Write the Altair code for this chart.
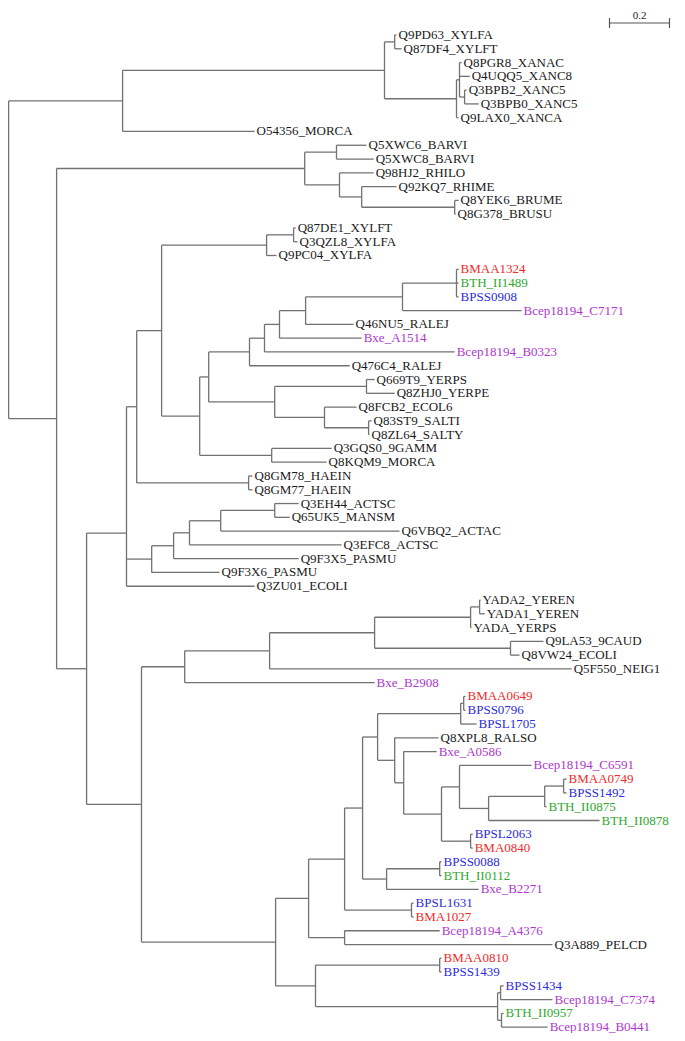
import altair as alt
import pandas as pd
from collections import defaultdict

# ---------------- data (depth = distance from root, substitutions/site) ----------------
leaf_names = [
    "Q9PD63_XYLFA", "Q87DF4_XYLFT", "Q8PGR8_XANAC", "Q4UQQ5_XANC8", "Q3BPB2_XANC5",
    "Q3BPB0_XANC5", "Q9LAX0_XANCA", "O54356_MORCA", "Q5XWC6_BARVI", "Q5XWC8_BARVI",
    "Q98HJ2_RHILO", "Q92KQ7_RHIME", "Q8YEK6_BRUME", "Q8G378_BRUSU", "Q87DE1_XYLFT",
    "Q3QZL8_XYLFA", "Q9PC04_XYLFA", "BMAA1324", "BTH_II1489", "BPSS0908",
    "Bcep18194_C7171", "Q46NU5_RALEJ", "Bxe_A1514", "Bcep18194_B0323", "Q476C4_RALEJ",
    "Q669T9_YERPS", "Q8ZHJ0_YERPE", "Q8FCB2_ECOL6", "Q83ST9_SALTI", "Q8ZL64_SALTY",
    "Q3GQS0_9GAMM", "Q8KQM9_MORCA", "Q8GM78_HAEIN", "Q8GM77_HAEIN", "Q3EH44_ACTSC",
    "Q65UK5_MANSM", "Q6VBQ2_ACTAC", "Q3EFC8_ACTSC", "Q9F3X5_PASMU", "Q9F3X6_PASMU",
    "Q3ZU01_ECOLI", "YADA2_YEREN", "YADA1_YEREN", "YADA_YERPS", "Q9LA53_9CAUD",
    "Q8VW24_ECOLI", "Q5F550_NEIG1", "Bxe_B2908", "BMAA0649", "BPSS0796",
    "BPSL1705", "Q8XPL8_RALSO", "Bxe_A0586", "Bcep18194_C6591", "BMAA0749",
    "BPSS1492", "BTH_II0875", "BTH_II0878", "BPSL2063", "BMA0840",
    "BPSS0088", "BTH_II0112", "Bxe_B2271", "BPSL1631", "BMA1027",
    "Bcep18194_A4376", "Q3A889_PELCD", "BMAA0810", "BPSS1439", "BPSS1434",
    "Bcep18194_C7374", "BTH_II0957", "Bcep18194_B0441",
]
leaf_parent = [
    "A1a", "A1a", "X", "X", "Y",
    "Y", "A1b", "A", "G1", "G1",
    "G2", "G3", "G4", "G4", "N292",
    "N292", "N265", "N455", "N455", "N455",
    "N401", "N304", "N278", "N263", "N248",
    "N365", "N365", "N323", "N367", "N367",
    "N269", "N269", "N247", "N247", "N273b",
    "N273b", "N219", "N188", "N172", "N150",
    "N125", "N478", "N478", "N470", "N509",
    "N509", "N268", "N183", "N462", "N462",
    "N459", "N393", "N402", "N458", "N562",
    "N562", "N543", "N487", "N469", "N469",
    "N438", "N438", "N385", "N410", "N410",
    "N343b", "N343b", "N438b", "N438b", "N499",
    "N499", "N500", "N500",
]
leaf_depth = [
    1.293, 1.310, 1.510, 1.537, 1.527,
    1.567, 1.500, 0.820, 1.193, 1.217,
    1.217, 1.293, 1.500, 1.490, 0.957,
    0.963, 0.893, 1.500, 1.500, 1.500,
    1.710, 1.150, 1.177, 1.487, 1.137,
    1.220, 1.287, 1.160, 1.210, 1.203,
    1.077, 1.060, 0.813, 0.813, 0.967,
    0.937, 1.303, 1.110, 0.967, 0.703,
    0.820, 1.573, 1.587, 1.543, 1.783,
    1.703, 1.877, 1.220, 1.523, 1.523,
    1.560, 1.433, 1.427, 1.743, 1.860,
    1.860, 1.793, 1.970, 1.547, 1.547,
    1.443, 1.443, 1.567, 1.350, 1.350,
    1.437, 1.813, 1.443, 1.443, 1.650,
    1.813, 1.650, 1.797,
]

node_names = [
    "A", "A1", "A1a", "A1b", "X", "Y",
    "B", "G", "G1", "G2", "G3", "G4",
    "N85", "N125", "N135", "N160", "N265", "N292", "N198", "N207", "N248", "N263",
    "N278", "N304", "N401", "N455", "N273", "N365", "N323", "N367", "N269", "N247",
    "N150", "N172", "N188", "N219", "N273b",
    "N140", "N183", "N268", "N373", "N470", "N478", "N509",
    "N274", "N307", "N343a", "N362", "N376", "N459", "N462", "N393", "N402", "N440",
    "N458", "N487", "N543", "N562", "N469", "N385", "N438", "N410", "N343b",
    "N314", "N438b", "N496", "N499", "N500",
]
node_parent = [
    "R", "A", "A1", "A1", "A1b", "X",
    "R", "B", "G", "G", "G2", "G3",
    "B", "N85", "N125", "N135", "N160", "N265", "N160", "N198", "N207", "N248",
    "N263", "N278", "N304", "N401", "N207", "N273", "N273", "N323", "N198", "N135",
    "N125", "N150", "N172", "N188", "N219",
    "N85", "N140", "N183", "N268", "N373", "N470", "N373",
    "N140", "N274", "N307", "N343a", "N362", "N376", "N459", "N376", "N393", "N402",
    "N440", "N458", "N487", "N543", "N440", "N362", "N385", "N343a", "N307",
    "N274", "N314", "N314", "N496", "N496",
]
node_depth = [
    0.380, 1.253, 1.287, 1.493, 1.503, 1.520,
    0.160, 0.987, 1.093, 1.103, 1.177, 1.487,
    0.260, 0.393, 0.427, 0.510, 0.860, 0.950, 0.637, 0.667, 0.803, 0.853,
    0.903, 0.990, 1.313, 1.493, 0.887, 1.193, 1.053, 1.200, 0.877, 0.800,
    0.477, 0.550, 0.603, 0.707, 0.887,
    0.443, 0.587, 0.870, 1.220, 1.540, 1.570, 1.673,
    0.890, 1.000, 1.120, 1.180, 1.230, 1.507, 1.517, 1.287, 1.317, 1.443,
    1.503, 1.600, 1.787, 1.850, 1.540, 1.260, 1.437, 1.343, 1.120,
    1.023, 1.437, 1.630, 1.640, 1.643,
]
# the one node the drawing does not place at the middle of its children (leaf-row units)
node_row_override = {"N125": 36.14}

scale_bar_start = 2.003
scale_bar_length = 0.2
scale_bar_label = "0.2"

# ---------------- build tables ----------------
depth = {"R": 0.0}
parent = {}
for n, p, d in zip(node_names, node_parent, node_depth):
    depth[n], parent[n] = d, p
for n, p, d in zip(leaf_names, leaf_parent, leaf_depth):
    depth[n], parent[n] = d, p

children = defaultdict(list)
for n, p in parent.items():
    children[p].append(n)

row = {n: float(i) for i, n in enumerate(leaf_names)}
span = {}


def place(n):
    if n in row:
        return row[n]
    ys = [place(c) for c in children[n]]
    span[n] = (min(ys), max(ys))
    row[n] = node_row_override.get(n, (min(ys) + max(ys)) / 2)
    return row[n]


place("R")

segs = []
for n, p in parent.items():
    segs.append({"x": depth[p], "x2": depth[n], "y": row[n], "y2": row[n]})
for n, (a, b) in span.items():
    segs.append({"x": depth[n], "x2": depth[n], "y": a, "y2": b})
seg_df = pd.DataFrame(segs)


def group_of(name):
    if name.startswith("BMA"):
        return "red"
    if name.startswith("BTH"):
        return "green"
    if name.startswith("BPS"):
        return "blue"
    if name.startswith("Bcep") or name.startswith("Bxe"):
        return "purple"
    return "black"


palette = {"red": "#ee2b2b", "green": "#2fa82f", "blue": "#2b2bdd",
           "purple": "#ad38cc", "black": "#1a1a1a"}
lab_df = pd.DataFrame({
    "name": leaf_names,
    "x": [depth[n] for n in leaf_names],
    "y": [row[n] for n in leaf_names],
    "color": [palette[group_of(n)] for n in leaf_names],
})

# scale bar placement in leaf-row units (top right corner)
bar_y, tick_top, tick_bot, lab_y = -0.87, -1.23, -0.51, -1.02
bar_df = pd.DataFrame([
    {"x": scale_bar_start, "x2": scale_bar_start + scale_bar_length, "y": bar_y, "y2": bar_y},
    {"x": scale_bar_start, "x2": scale_bar_start, "y": tick_top, "y2": tick_bot},
    {"x": scale_bar_start + scale_bar_length, "x2": scale_bar_start + scale_bar_length,
     "y": tick_top, "y2": tick_bot},
])
bar_lab_df = pd.DataFrame([{"x": scale_bar_start + scale_bar_length / 2, "y": lab_y,
                            "t": scale_bar_label}])

# ---------------- chart ----------------
xs = alt.Scale(domain=[-0.002, 2.228], nice=False, zero=False)
ys = alt.Scale(domain=[-1.96, 72.42], reverse=True, nice=False, zero=False)

branches = alt.Chart(seg_df).mark_rule(color="#727272", strokeWidth=1.3).encode(
    x=alt.X("x:Q", scale=xs, axis=None), x2="x2",
    y=alt.Y("y:Q", scale=ys, axis=None), y2="y2")

labels = alt.Chart(lab_df).mark_text(
    align="left", baseline="middle", dx=2, font="Liberation Serif", fontSize=13
).encode(x=alt.X("x:Q", scale=xs, axis=None), y=alt.Y("y:Q", scale=ys, axis=None),
         text="name:N", color=alt.Color("color:N", scale=None))

sbar = alt.Chart(bar_df).mark_rule(color="#555555", strokeWidth=1.2).encode(
    x=alt.X("x:Q", scale=xs, axis=None), x2="x2",
    y=alt.Y("y:Q", scale=ys, axis=None), y2="y2")

slab = alt.Chart(bar_lab_df).mark_text(
    align="center", baseline="bottom", font="Liberation Serif", fontSize=11, color="#222222"
).encode(x=alt.X("x:Q", scale=xs, axis=None), y=alt.Y("y:Q", scale=ys, axis=None), text="t:N")

chart = alt.layer(branches, labels, sbar, slab).properties(
    width=669, height=1025, padding=0,
    autosize=alt.AutoSizeParams(type="none"),
).configure_view(stroke=None)

chart.save("out.html", embed_options={"renderer": "svg", "actions": False})
